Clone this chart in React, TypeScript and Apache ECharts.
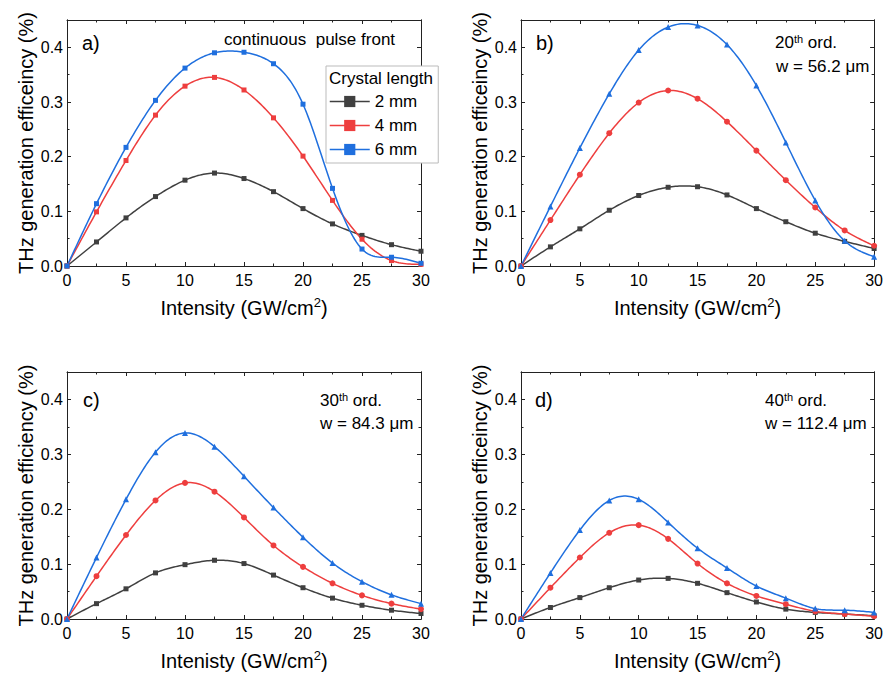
import React, { useEffect, useRef } from 'react';
import * as echarts from 'echarts';

const intensity = [0, 2.5, 5, 7.5, 10, 12.5, 15, 17.5, 20, 22.5, 25, 27.5, 30];
const seriesNames = ['2 mm', '4 mm', '6 mm'];
const xTickLabels = ['0', '5', '10', '15', '20', '25', '30'];
const yTickLabels = ['0.0', '0.1', '0.2', '0.3', '0.4'];

// a) continuous pulse front
const a2mm = [0, 0.044, 0.088, 0.127, 0.157, 0.17, 0.16, 0.136, 0.105, 0.077, 0.056, 0.039, 0.027];
const a4mm = [0, 0.099, 0.193, 0.276, 0.329, 0.345, 0.322, 0.271, 0.201, 0.12, 0.049, 0.01, 0.003];
const a6mm = [0, 0.114, 0.217, 0.303, 0.362, 0.39, 0.391, 0.37, 0.296, 0.142, 0.031, 0.016, 0.005];
// b) 20th order
const b2mm = [0, 0.035, 0.068, 0.102, 0.129, 0.144, 0.145, 0.13, 0.105, 0.081, 0.06, 0.045, 0.032];
const b4mm = [0, 0.084, 0.167, 0.243, 0.299, 0.321, 0.306, 0.264, 0.211, 0.157, 0.107, 0.065, 0.037];
const b6mm = [0, 0.109, 0.216, 0.315, 0.395, 0.437, 0.44, 0.405, 0.33, 0.226, 0.12, 0.046, 0.017];
// c) 30th order
const c2mm = [0, 0.028, 0.055, 0.084, 0.099, 0.107, 0.101, 0.08, 0.057, 0.038, 0.025, 0.016, 0.01];
const c4mm = [0, 0.078, 0.153, 0.216, 0.248, 0.232, 0.185, 0.134, 0.095, 0.065, 0.043, 0.028, 0.018];
const c6mm = [0, 0.112, 0.218, 0.304, 0.339, 0.314, 0.26, 0.203, 0.149, 0.102, 0.068, 0.044, 0.028];
// d) 40th order
const d2mm = [0, 0.021, 0.039, 0.057, 0.071, 0.074, 0.065, 0.048, 0.031, 0.018, 0.012, 0.009, 0.006];
const d4mm = [0, 0.057, 0.112, 0.157, 0.171, 0.146, 0.101, 0.065, 0.042, 0.027, 0.014, 0.009, 0.005];
const d6mm = [0, 0.084, 0.162, 0.216, 0.218, 0.176, 0.129, 0.093, 0.06, 0.038, 0.019, 0.016, 0.012];

const FONT = '"Liberation Sans", Arial, sans-serif';
const COLORS = ['#404040', '#ee3e3e', '#1f6fde'];
const AXIS_COLOR = '#222';

type Panel = {
  grid: { left: number; top: number; width: number; height: number };
  data: number[][];
  symbols: string[];
  yName: string;
  xName: string;
  tag: string;
  tagPos: [number, number];
  notes: { text: string; x: number; y: number }[];
};

const panels: Panel[] = [
  {
    grid: { left: 67, top: 20, width: 354, height: 246 },
    data: [a2mm, a4mm, a6mm],
    symbols: ['rect', 'rect', 'rect'],
    yName: 'THz generation efficeincy (%)',
    xName: 'Intensity',
    tag: 'a)',
    tagPos: [82, 43],
    notes: [{ text: 'continuous  pulse front', x: 224, y: 39 }],
  },
  {
    grid: { left: 521, top: 20, width: 354, height: 246 },
    data: [b2mm, b4mm, b6mm],
    symbols: ['rect', 'circle', 'triangle'],
    yName: 'THz generation efficeincy (%)',
    xName: 'Intensity',
    tag: 'b)',
    tagPos: [536, 43],
    notes: [
      { text: '{n|20}{s|th}{n| ord.}', x: 775, y: 42 },
      { text: '{n|w = 56.2 μm}', x: 776, y: 66 },
    ],
  },
  {
    grid: { left: 67, top: 372, width: 354, height: 247 },
    data: [c2mm, c4mm, c6mm],
    symbols: ['rect', 'circle', 'triangle'],
    yName: 'THz generation efficiency (%)',
    xName: 'Intenisty',
    tag: 'c)',
    tagPos: [83, 400],
    notes: [
      { text: '{n|30}{s|th}{n| ord.}', x: 320, y: 400 },
      { text: '{n|w = 84.3 μm}', x: 320, y: 423 },
    ],
  },
  {
    grid: { left: 521, top: 372, width: 354, height: 247 },
    data: [d2mm, d4mm, d6mm],
    symbols: ['rect', 'circle', 'triangle'],
    yName: 'THz generation efficeincy (%)',
    xName: 'Intensity',
    tag: 'd)',
    tagPos: [535, 400],
    notes: [
      { text: '{n|40}{s|th}{n| ord.}', x: 765, y: 400 },
      { text: '{n|w = 112.4 μm}', x: 765, y: 423 },
    ],
  },
];

const richText = {
  n: { fontSize: 17, fontFamily: FONT, color: '#000' },
  s: { fontSize: 11, fontFamily: FONT, color: '#000', verticalAlign: 'top' as const, lineHeight: 11 },
};

// Natural cubic spline through (xs, ys): returns second derivatives.
function splineSecondDerivs(xs: number[], ys: number[]) {
  const n = xs.length;
  const m = new Array(n).fill(0);
  const a: number[] = [], b: number[] = [], c: number[] = [], d: number[] = [];
  for (let i = 1; i < n - 1; i++) {
    const h0 = xs[i] - xs[i - 1];
    const h1 = xs[i + 1] - xs[i];
    a.push(h0);
    b.push(2 * (h0 + h1));
    c.push(h1);
    d.push(6 * ((ys[i + 1] - ys[i]) / h1 - (ys[i] - ys[i - 1]) / h0));
  }
  const k = b.length;
  for (let i = 1; i < k; i++) {
    const w = a[i] / b[i - 1];
    b[i] -= w * c[i - 1];
    d[i] -= w * d[i - 1];
  }
  const sol = new Array(k).fill(0);
  for (let i = k - 1; i >= 0; i--) {
    sol[i] = (d[i] - (i < k - 1 ? c[i] * sol[i + 1] : 0)) / b[i];
  }
  for (let i = 0; i < k; i++) m[i + 1] = sol[i];
  return m;
}

function splineRenderItem(xs: number[], ys: number[], color: string) {
  const m = splineSecondDerivs(xs, ys);
  return (params: any, api: any) => {
    if (params.dataIndex !== 0) return null;
    const pts: number[][] = [];
    const steps = 16;
    for (let j = 0; j < xs.length - 1; j++) {
      const h = xs[j + 1] - xs[j];
      for (let s = 0; s <= steps; s++) {
        if (j > 0 && s === 0) continue;
        const t = s / steps;
        const x = xs[j] + h * t;
        const A = 1 - t;
        const B = t;
        const y =
          A * ys[j] +
          B * ys[j + 1] +
          ((A * A * A - A) * m[j] + (B * B * B - B) * m[j + 1]) * (h * h) / 6;
        pts.push(api.coord([x, y]));
      }
    }
    return {
      type: 'polyline',
      silent: true,
      shape: { points: pts },
      style: { stroke: color, lineWidth: 1.5, fill: 'none' },
    };
  };
}

function buildOption() {
  const grid: any[] = [];
  const xAxis: any[] = [];
  const yAxis: any[] = [];
  const series: any[] = [];
  const graphic: any[] = [];
  const lineStyle = { color: AXIS_COLOR, width: 1 };

  panels.forEach((p, i) => {
    grid.push({ ...p.grid, containLabel: false });
    const xBase = {
      type: 'value',
      gridIndex: i,
      min: 0,
      max: 30,
      interval: 5,
      axisLine: { show: true, onZero: false, lineStyle },
      axisTick: { show: true, inside: true, length: 4, lineStyle },
      minorTick: { show: true, splitNumber: 2, length: 2.5, lineStyle },
      splitLine: { show: false },
      minorSplitLine: { show: false },
    };
    xAxis.push({
      ...xBase,
      position: 'bottom',
      axisLabel: {
        show: true,
        fontSize: 16,
        fontFamily: FONT,
        color: '#000',
        margin: 6,
        formatter: (v: number) => (xTickLabels.includes(String(v)) ? String(v) : ''),
      },
      name: `{a|${p.xName} (GW/cm}{s|2}{a|)}`,
      nameLocation: 'middle',
      nameGap: 30,
      nameTextStyle: {
        rich: {
          a: { fontSize: 20, fontFamily: FONT, color: '#000', lineHeight: 24 },
          s: { fontSize: 13, fontFamily: FONT, color: '#000', verticalAlign: 'top', lineHeight: 14 },
        },
      },
    });
    xAxis.push({ ...xBase, position: 'top', axisLabel: { show: false } });

    const yBase = {
      type: 'value',
      gridIndex: i,
      min: 0,
      max: 0.45,
      axisLine: { show: true, onZero: false, lineStyle },
      splitLine: { show: false },
      minorTick: { show: false },
    };
    yAxis.push({
      ...yBase,
      position: 'left',
      interval: 0.1,
      axisTick: { show: true, inside: true, length: 4, lineStyle },
      axisLabel: {
        show: true,
        fontSize: 16,
        fontFamily: FONT,
        color: '#000',
        margin: 4,
        formatter: (v: number) => {
          const s = v.toFixed(1);
          return v < 0.41 && yTickLabels.includes(s) ? s : '';
        },
      },
      name: p.yName,
      nameLocation: 'middle',
      nameGap: 31,
      nameTextStyle: { fontSize: 20, fontFamily: FONT, color: '#000' },
    });
    yAxis.push({
      ...yBase,
      position: 'right',
      interval: 0.1,
      axisTick: { show: true, inside: true, length: 4, lineStyle },
      axisLabel: { show: false },
    });
    yAxis.push({
      ...yBase,
      position: 'left',
      interval: 0.05,
      axisTick: { show: true, inside: true, length: 2.5, lineStyle },
      axisLabel: { show: false },
    });
    yAxis.push({
      ...yBase,
      position: 'right',
      interval: 0.05,
      axisTick: { show: true, inside: true, length: 2.5, lineStyle },
      axisLabel: { show: false },
    });

    p.data.forEach((vals, k) => {
      const pts = intensity.map((x, j) => [x, vals[j]]);
      // spline curve
      series.push({
        type: 'custom',
        name: `${seriesNames[k]} curve ${i}`,
        coordinateSystem: 'cartesian2d',
        xAxisIndex: 2 * i,
        yAxisIndex: 4 * i,
        data: pts,
        encode: { x: 0, y: 1 },
        renderItem: splineRenderItem(intensity, vals, COLORS[k]),
        clip: true,
        silent: true,
        z: 2 + k,
      });
      // markers
      series.push({
        type: 'line',
        name: seriesNames[k],
        xAxisIndex: 2 * i,
        yAxisIndex: 4 * i,
        data: pts,
        symbol: p.symbols[k],
        symbolSize: p.symbols[k] === 'rect' ? 5 : 6,
        showSymbol: true,
        lineStyle: { color: COLORS[k], width: 1.5, opacity: 0 },
        itemStyle: { color: COLORS[k] },
        z: 3 + k,
      });
    });

    graphic.push({
      type: 'text',
      x: p.tagPos[0],
      y: p.tagPos[1],
      z: 100,
      style: { text: p.tag, fontSize: 20, fontFamily: FONT, fill: '#000', verticalAlign: 'middle' },
    });
    p.notes.forEach((n) => {
      graphic.push({
        type: 'text',
        x: n.x,
        y: n.y,
        z: 100,
        style: {
          text: n.text.startsWith('{') ? n.text : `{n|${n.text}}`,
          rich: richText,
          fontSize: 17,
          fontFamily: FONT,
          fill: '#000',
          verticalAlign: 'middle',
        },
      });
    });
  });

  graphic.push({
    type: 'text',
    x: 329,
    y: 78,
    z: 100,
    style: { text: 'Crystal length', fontSize: 17, fontFamily: FONT, fill: '#000', verticalAlign: 'middle' },
  });

  return {
    animation: false,
    backgroundColor: '#fff',
    textStyle: { fontFamily: FONT },
    grid,
    xAxis,
    yAxis,
    series,
    graphic,
    legend: {
      data: seriesNames.map((name, k) => ({
        name,
        lineStyle: { color: COLORS[k], width: 1.5, opacity: 1 },
      })),
      orient: 'vertical',
      left: 326,
      top: 66,
      padding: [27, 21, 5, 3],
      itemGap: 7,
      itemWidth: 40,
      itemHeight: 14,
      selectedMode: false,
      backgroundColor: '#fff',
      borderColor: '#bbb',
      borderWidth: 1,
      borderRadius: 0,
      textStyle: { fontSize: 17, fontFamily: FONT, color: '#000' },
      z: 10,
    },
  };
}

export default function App() {
  const ref = useRef<HTMLDivElement>(null);
  useEffect(() => {
    if (!ref.current) return;
    const chart = echarts.init(ref.current, undefined, { renderer: 'svg' });
    chart.setOption(buildOption() as any);
    return () => chart.dispose();
  }, []);
  return (
    <div
      ref={ref}
      style={{ position: 'fixed', left: 0, top: 0, width: 886, height: 679, background: '#fff' }}
    />
  );
}
